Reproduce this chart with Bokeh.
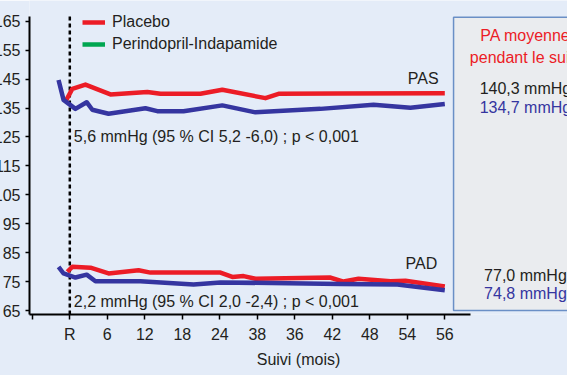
from bokeh.plotting import figure
from bokeh.models import Range1d, FixedTicker, Legend, LegendItem
from bokeh.core.properties import value
from bokeh.embed import file_html
from bokeh.resources import INLINE

# ---- data (x = position on the follow-up axis, months) ----
x_ticks = [-6, 0, 6, 12, 18, 24, 30, 36, 42, 48, 54, 60]
x_tick_labels = ["", "R", "6", "12", "18", "24", "38", "36", "42", "48", "54", "56"]
y_ticks = [65, 75, 85, 95, 105, 115, 125, 135, 145, 155, 165]

pas_placebo_x = [-0.6, 0.4, 2.5, 6.5, 12.4, 14.5, 20.9, 24.4, 31.3, 33.4, 42.8, 60]
pas_placebo_y = [137.6, 141.6, 143.1, 139.7, 140.5, 139.9, 139.9, 141.3, 138.4, 139.9, 140.0, 140.1]
pas_perindo_x = [-1.8, -1.0, 0.9, 2.7, 3.6, 6.2, 12.1, 14.0, 18.2, 24.4, 29.7, 40.1, 48.6, 54.5, 60]
pas_perindo_y = [144.7, 137.8, 134.7, 137.0, 134.4, 133.0, 134.9, 133.9, 133.9, 135.9, 133.5, 134.7, 136.1, 135.1, 136.4]

pad_placebo_x = [-0.4, 0.4, 3.3, 6.2, 11.0, 12.9, 24.1, 26.0, 27.8, 29.7, 41.6, 43.8, 46.2, 51.3, 53.7, 60]
pad_placebo_y = [78.4, 80.1, 79.8, 77.8, 78.9, 78.1, 78.1, 76.6, 76.9, 76.0, 76.4, 75.0, 76.0, 75.1, 75.3, 73.3]
pad_perindo_x = [-1.8, -1.0, 0.9, 2.7, 4.1, 11.3, 19.8, 24.1, 43.3, 52.4, 60]
pad_perindo_y = [80.1, 77.8, 76.4, 77.4, 75.1, 75.1, 74.0, 74.7, 74.2, 74.0, 72.0]

mean_title = ["PA moyenne", "pendant le suivi"]
mean_pas = ["140,3 mmHg", "134,7 mmHg"]
mean_pad = ["77,0 mmHg", "74,8 mmHg"]
diff_pas = "5,6 mmHg (95 % CI 5,2 -6,0) ; p < 0,001"
diff_pad = "2,2 mmHg (95 % CI 2,0 -2,4) ; p < 0,001"

RED = "#ec1c26"
BLUE = "#3535a0"
GREEN = "#00a651"
BG = "#e4ecf8"
INK = "#231f20"
FONT = "Liberation Sans"

p = figure(width=578, height=375,
           x_range=Range1d(-6.448, 79.63), y_range=Range1d(63.62, 172.16),
           output_backend="svg", toolbar_location=None,
           min_border_left=40, min_border_right=0, min_border_top=0, min_border_bottom=61)
p.margin = (0, 0, 0, -11)
p.background_fill_color = BG
p.border_fill_color = BG
p.outline_line_color = None
p.xgrid.visible = False
p.ygrid.visible = False

# axes
p.xaxis.ticker = FixedTicker(ticks=x_ticks)
p.xaxis.major_label_overrides = {t: l for t, l in zip(x_ticks, x_tick_labels)}
p.xaxis.bounds = (-6.448, 64.1)
p.xaxis.axis_label = "Suivi (mois)"
p.yaxis.ticker = FixedTicker(ticks=y_ticks)
p.yaxis.bounds = (63.62, 166.6)
for ax in (p.xaxis, p.yaxis):
    ax.axis_line_color = "black"
    ax.axis_line_width = 2
    ax.major_tick_line_color = "black"
    ax.major_tick_line_width = 1.5
    ax.minor_tick_line_color = None
    ax.major_tick_in = 0
    ax.major_label_text_font = FONT
    ax.major_label_text_font_size = "16px"
    ax.major_label_text_color = INK
    ax.axis_label_text_font = FONT
    ax.axis_label_text_font_size = "16px"
    ax.axis_label_text_font_style = "normal"
    ax.axis_label_text_color = INK
p.xaxis.major_tick_out = 5
p.xaxis.major_label_standoff = 6
p.xaxis.axis_label_standoff = 5
p.yaxis.major_tick_out = 4
p.yaxis.major_label_standoff = 5

# right panel box with means
p.quad(left=61.4, right=100, top=166.4, bottom=65.0,
       fill_color="#eaecef", line_color="#6a8fc6", line_width=1.5)
p.text(x=[72.9, 72.9], y=[160.0, 152.5], text=mean_title, text_color=RED,
       text_font=value(FONT), text_font_size="16px", text_align="center", text_baseline="middle")
p.text(x=[72.9, 72.9], y=[141.6, 135.1], text=mean_pas, text_color=[INK, BLUE],
       text_font=value(FONT), text_font_size="16px", text_align="center", text_baseline="middle")
p.text(x=[72.9, 72.9], y=[77.1, 70.8], text=mean_pad, text_color=[INK, BLUE],
       text_font=value(FONT), text_font_size="16px", text_align="center", text_baseline="middle")

# randomisation line
p.line(x=[0, 0], y=[63.62, 167.7], line_color="black", line_width=2.5, line_dash="4 3")

# series
r_pl = p.line(pas_placebo_x, pas_placebo_y, line_color=RED, line_width=4.5, line_join="round")
p.line(pas_perindo_x, pas_perindo_y, line_color=BLUE, line_width=4.5, line_join="round")
p.line(pad_placebo_x, pad_placebo_y, line_color=RED, line_width=4.5, line_join="round")
p.line(pad_perindo_x, pad_perindo_y, line_color=BLUE, line_width=4.5, line_join="round")
# legend-only renderer (the printed legend shows a green swatch)
r_green = p.line([float("nan")], [float("nan")], line_color=GREEN, line_width=4.5)

# labels
p.text(x=[59.0], y=[145.2], text=["PAS"], text_color=INK, text_font=value(FONT),
       text_font_size="16px", text_align="right", text_baseline="middle")
p.text(x=[58.8], y=[81.35], text=["PAD"], text_color=INK, text_font=value(FONT),
       text_font_size="16px", text_align="right", text_baseline="middle")
p.text(x=[0.64], y=[125.15], text=[diff_pas], text_color=INK, text_font=value(FONT),
       text_font_size="16px", text_align="left", text_baseline="middle")
p.text(x=[0.64], y=[68.2], text=[diff_pad], text_color=INK, text_font=value(FONT),
       text_font_size="16px", text_align="left", text_baseline="middle")

legend = Legend(items=[LegendItem(label="Placebo", renderers=[r_pl]),
                       LegendItem(label="Perindopril-Indapamide", renderers=[r_green])],
                location=(53, 260), padding=0, margin=0, spacing=2,
                glyph_width=23, glyph_height=20, label_height=20, label_standoff=7,
                label_text_font=FONT, label_text_font_size="16px", label_text_color=INK,
                border_line_color=None, background_fill_alpha=0)
p.add_layout(legend)

open("out.html", "w").write(file_html(p, INLINE))
